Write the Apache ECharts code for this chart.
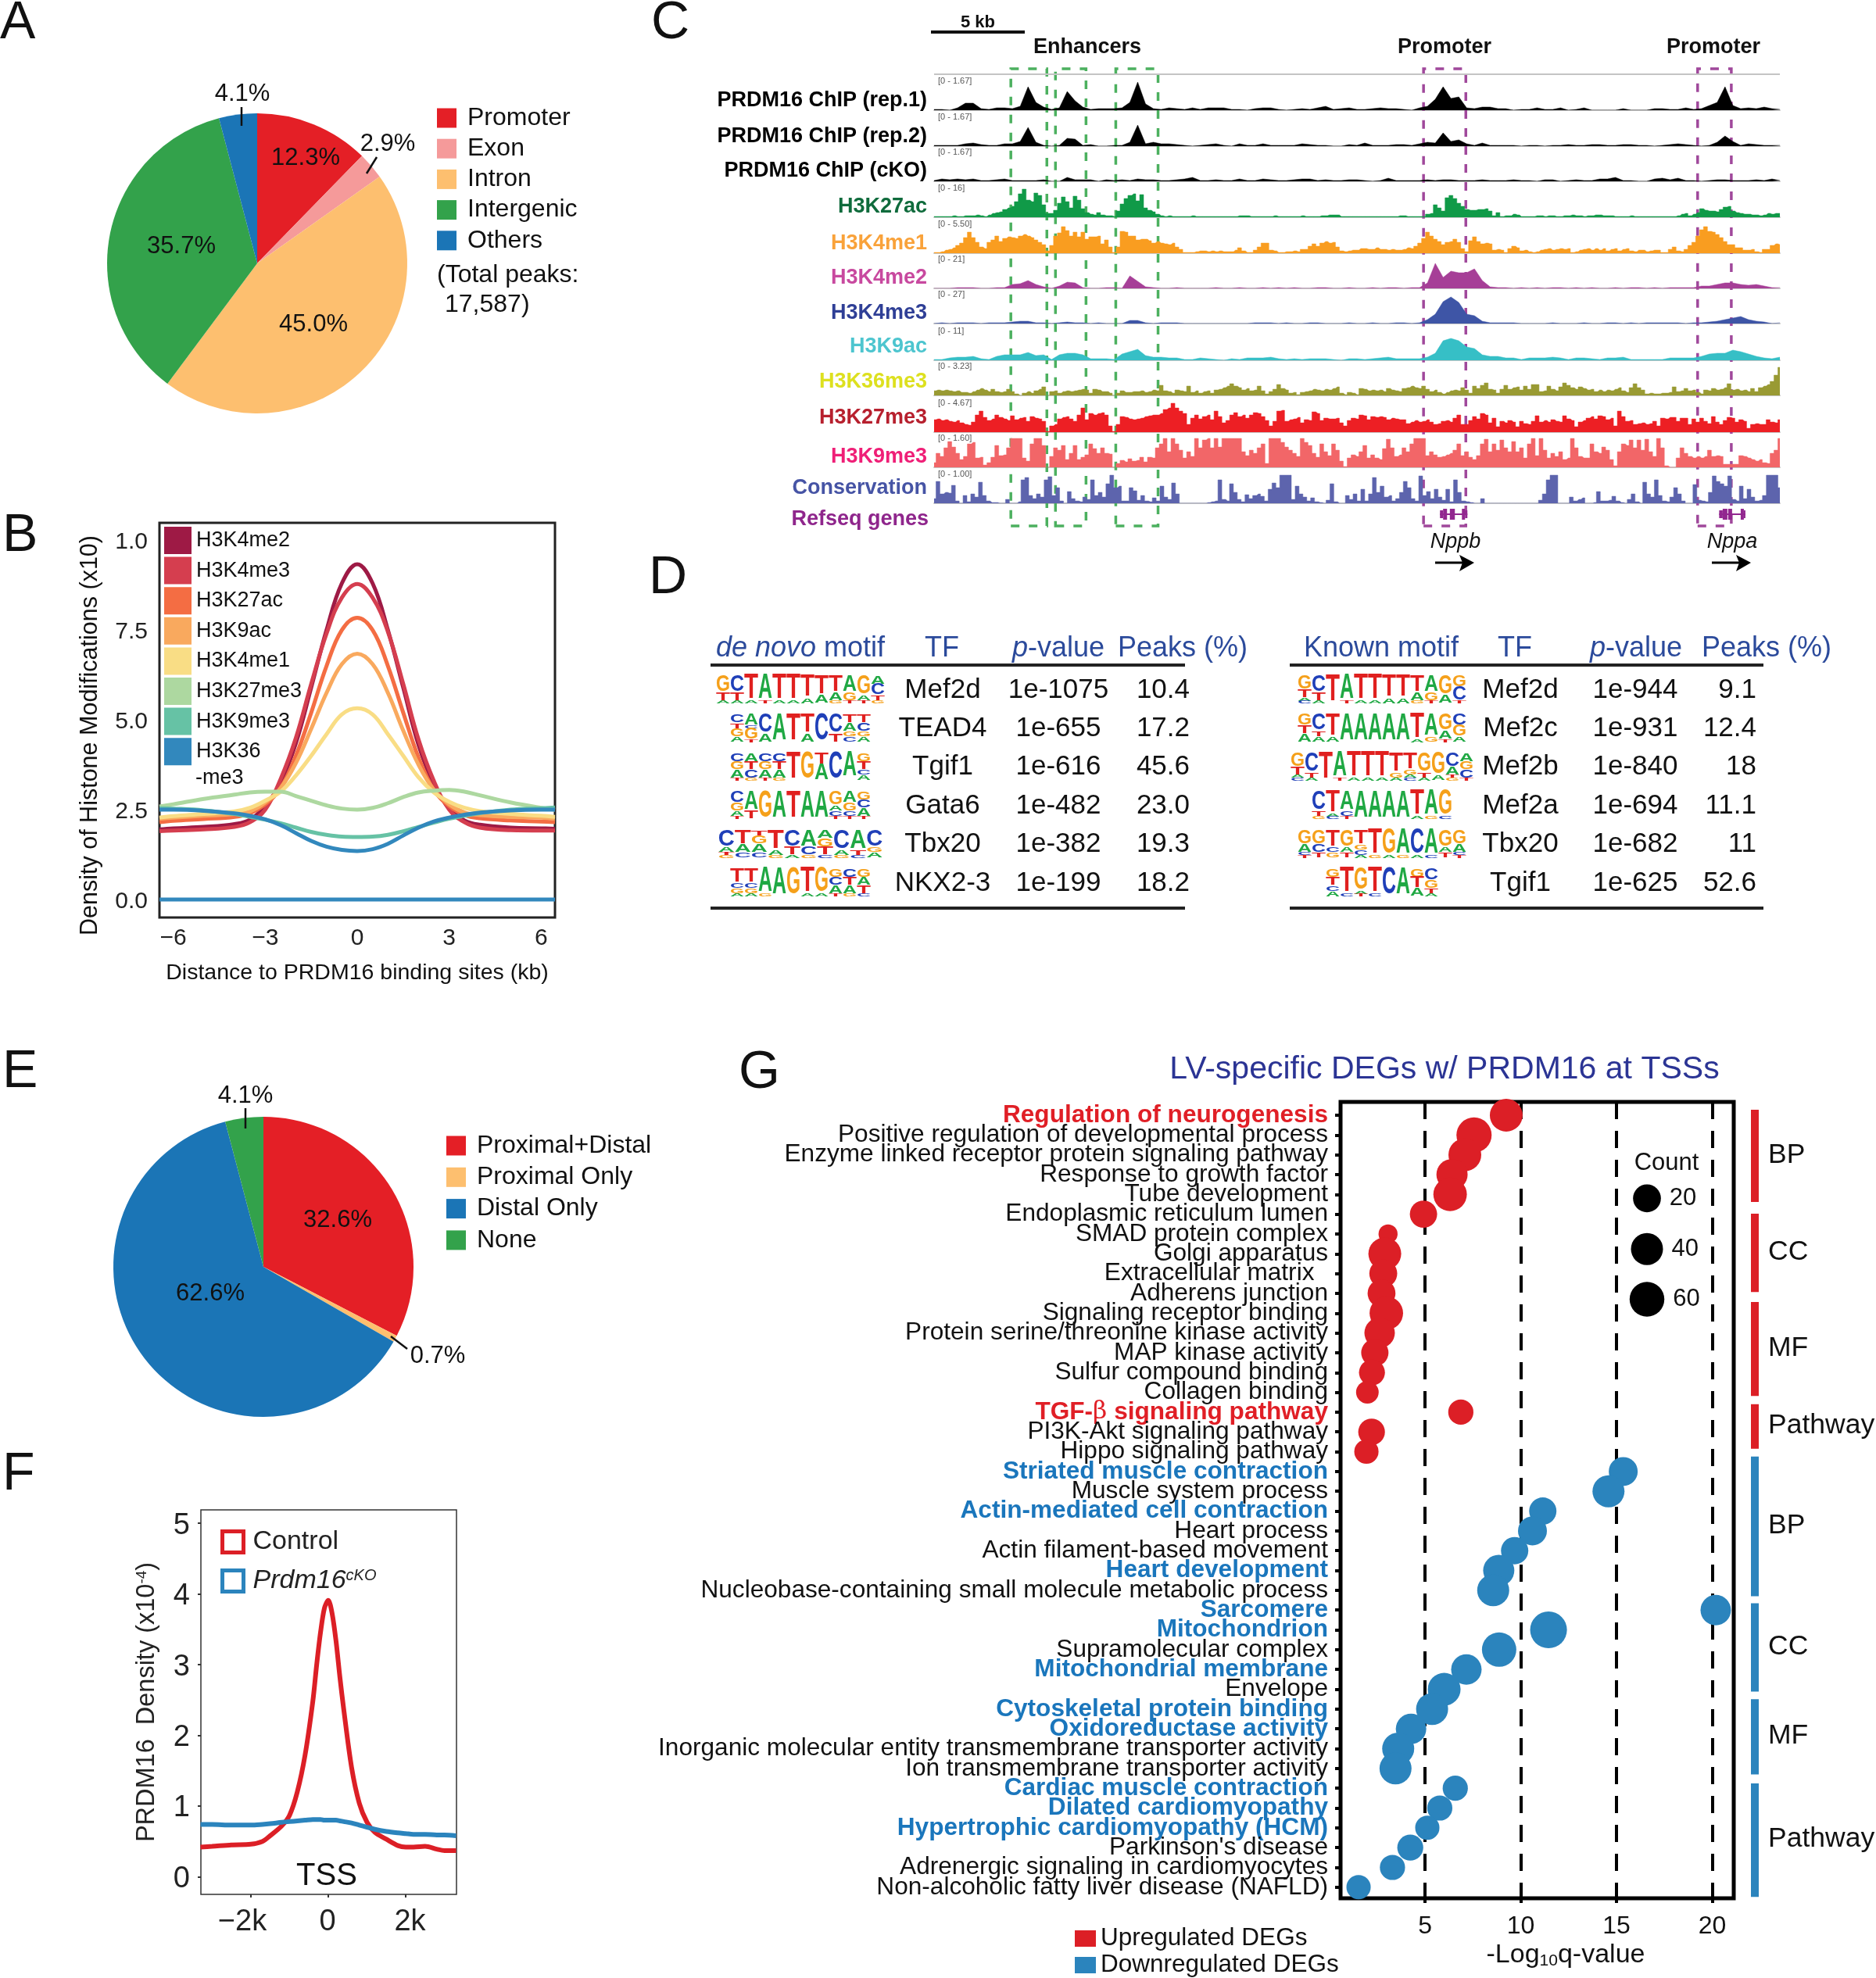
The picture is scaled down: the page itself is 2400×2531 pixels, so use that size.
<!DOCTYPE html>
<html>
<head>
<meta charset="utf-8">
<title>PRDM16 figure</title>
<script src="https://cdn.jsdelivr.net/npm/echarts@6/dist/echarts.min.js"></script>
<style>
  html, body { margin: 0; padding: 0; background: #fff; }
  #main { width: 2400px; height: 2531px; }
</style>
</head>
<body>
<div id="main"></div>
<script>
// panel A + E pies
const aNames = ['Promoter', 'Exon', 'Intron', 'Intergenic', 'Others'];
const aValues = [12.3, 2.9, 45.0, 35.7, 4.1];
const aColors = ['#e41f26', '#f59a9a', '#fdbf6f', '#33a24b', '#1b75b6'];
const eNames = ['Proximal+Distal', 'Proximal Only', 'Distal Only', 'None'];
const eValues = [32.6, 0.7, 62.6, 4.1];
const eColors = ['#e41f26', '#fdbf6f', '#1b75b6', '#33a24b'];

// panel B profiles (x in kb, y in density units)
const bX = [-6.45, -6, -5, -4, -3.5, -3, -2.5, -2, -1.5, -1, -0.5, 0, 0.5, 1, 1.5, 2, 2.5, 3, 3.5, 4, 5, 6, 6.45];
const bH3K4me2 = [1.95, 1.98, 2.02, 2.1, 2.22, 2.6, 3.25, 4.35, 5.9, 7.5, 8.8, 9.33, 8.8, 7.5, 5.9, 4.3, 3.2, 2.55, 2.2, 2.08, 2.0, 1.98, 1.97];
const bH3K4me3 = [1.9, 1.92, 1.95, 2.02, 2.15, 2.5, 3.35, 4.5, 6.0, 7.4, 8.4, 8.78, 8.4, 7.45, 6.0, 4.45, 3.3, 2.5, 2.15, 2.0, 1.93, 1.92, 1.92];
const bH3K27ac = [2.15, 2.19, 2.24, 2.3, 2.4, 2.65, 3.1, 4.0, 5.2, 6.5, 7.5, 7.84, 7.5, 6.5, 5.2, 3.95, 3.05, 2.6, 2.35, 2.26, 2.2, 2.17, 2.15];
const bH3K9ac = [2.25, 2.28, 2.33, 2.38, 2.45, 2.7, 3.1, 3.8, 4.75, 5.75, 6.55, 6.84, 6.55, 5.75, 4.7, 3.75, 3.05, 2.65, 2.42, 2.35, 2.3, 2.28, 2.25];
const bH3K4me1 = [2.28, 2.32, 2.38, 2.45, 2.55, 2.75, 3.0, 3.45, 4.0, 4.6, 5.15, 5.32, 5.15, 4.6, 4.0, 3.4, 2.98, 2.72, 2.55, 2.46, 2.38, 2.33, 2.3];
const bH3K27me3 = [2.59, 2.65, 2.8, 2.92, 2.98, 3.0, 3.0, 2.88, 2.75, 2.62, 2.53, 2.5, 2.55, 2.68, 2.85, 2.98, 3.03, 3.05, 3.0, 2.9, 2.7, 2.55, 2.5];
const bH3K9me3 = [2.54, 2.53, 2.48, 2.38, 2.3, 2.22, 2.12, 2.0, 1.88, 1.8, 1.75, 1.74, 1.75, 1.8, 1.9, 2.02, 2.14, 2.25, 2.33, 2.4, 2.5, 2.54, 2.56];
const bH3K36me3 = [2.5, 2.5, 2.47, 2.4, 2.33, 2.23, 2.07, 1.85, 1.63, 1.47, 1.38, 1.35, 1.4, 1.55, 1.78, 2.0, 2.17, 2.28, 2.36, 2.42, 2.48, 2.5, 2.5];
const bInput = [0, 0, 0, 0, 0, 0, 0, 0, 0, 0, 0, 0, 0, 0, 0, 0, 0, 0, 0, 0, 0, 0, 0];
const bNames = ['H3K4me2', 'H3K4me3', 'H3K27ac', 'H3K9ac', 'H3K4me1', 'H3K27me3', 'H3K9me3', 'H3K36me3'];
const bSeries = [bH3K4me2, bH3K4me3, bH3K27ac, bH3K9ac, bH3K4me1, bH3K27me3, bH3K9me3, bH3K36me3];
const bColors = ['#9e1a45', '#d53e4f', '#f46d43', '#f9a95e', '#f9dd85', '#add8a0', '#66c2a5', '#3288bd'];

// panel C tracks; ChIP/K4me2/K4me3/K9ac per 10 px bin, busy tracks per 5 px bin
const trRep1 = [1,1,0,3,9,9,2,1,3,3,2,5,30,10,4,1,3,24,12,4,1,2,2,2,3,10,36,8,2,1,3,2,1,3,1,3,3,3,1,1,0,2,3,3,1,0,1,2,1,3,5,1,2,3,1,1,2,3,2,2,1,0,3,5,14,30,15,17,3,2,4,4,2,2,0,1,1,3,1,1,3,0,1,3,0,0,0,0,2,0,0,0,2,2,1,1,3,1,2,6,10,30,6,2,3,2,4,2,1];
const trRep2 = [1,1,1,1,3,4,2,1,1,3,3,6,24,5,1,0,1,10,9,1,2,0,0,1,1,5,27,3,5,3,3,2,1,0,1,2,3,1,0,3,1,1,3,1,1,1,1,3,2,1,1,0,0,2,1,4,1,1,1,2,2,1,3,5,4,17,6,8,3,1,4,1,1,1,1,0,1,1,0,1,1,2,1,1,2,2,1,1,2,2,1,1,0,1,2,3,2,1,0,1,5,13,6,1,3,2,1,1,1];
const trCko = [1,3,2,3,2,3,1,1,2,3,1,1,1,1,2,0,0,5,2,2,2,0,2,1,2,1,3,2,2,1,1,2,3,5,1,1,2,1,1,3,1,1,3,2,1,1,2,3,3,1,2,1,1,2,2,1,0,1,4,1,1,1,1,2,1,2,2,1,1,1,2,1,1,1,2,1,1,0,2,2,0,1,2,1,1,3,3,5,1,1,0,0,3,4,2,4,1,1,0,1,2,2,1,1,1,2,1,3,1];
const trK27ac = [1,1,1,1,1,2,1,1,2,2,2,3,2,1,3,5,6,7,10,12,
  14,20,30,36,22,20,31,28,16,5,5,9,18,26,20,12,27,22,11,6,
  4,3,6,3,2,2,1,8,17,24,28,30,21,29,12,9,7,4,2,1,
  2,1,1,1,1,1,2,1,1,1,1,1,1,1,1,1,1,1,2,2,2,1,1,1,1,
  1,1,2,1,1,1,1,1,1,2,1,1,1,1,2,2,3,3,3,1,1,1,1,1,1,1,1,1,1,1,
  1,1,1,1,2,2,1,1,1,1,1,4,5,16,12,8,25,28,24,18,14,10,9,9,10,10,11,8,2,6,1,2,2,4,3,1,
  1,1,1,2,2,1,2,2,1,1,2,2,3,2,2,1,2,2,3,3,2,2,2,1,1,1,1,2,1,1,
  1,1,1,1,1,1,1,1,1,2,4,5,2,4,6,11,9,8,8,7,10,13,14,8,6,5,4,4,3,3,2,3,5,4,5,5];
const trK4me1 = [1,1,2,4,5,7,10,13,20,27,20,14,8,6,14,17,22,15,19,21,
  20,19,22,24,22,20,17,14,11,3,10,22,26,34,29,22,27,21,27,18,
  21,21,22,12,17,8,1,8,28,27,22,22,17,18,18,16,13,15,13,12,
  11,13,8,5,1,1,1,2,3,3,2,3,2,3,2,2,2,4,7,3,1,1,4,8,13,
  13,4,3,1,1,2,2,3,2,5,5,9,12,9,13,15,13,14,8,3,2,3,4,4,6,6,5,5,7,5,
  5,4,5,4,4,5,7,6,9,13,19,27,22,18,15,11,14,15,18,14,6,2,16,21,15,12,13,12,4,5,4,1,6,9,7,3,
  4,2,1,2,4,5,6,4,5,6,5,6,1,2,4,5,6,4,6,4,6,3,5,6,3,5,6,3,2,4,
  4,2,3,4,4,1,1,5,8,3,2,5,10,14,22,30,34,28,27,24,20,15,11,11,7,7,4,4,5,2,1,5,5,10,12,11];
const trK4me2 = [0,0,0,1,1,1,0,0,1,1,5,6,10,5,2,0,3,8,7,1,0,0,1,1,0,16,9,2,1,0,0,1,0,0,0,0,1,0,0,1,0,0,1,0,1,0,1,0,0,1,1,0,0,1,0,0,1,0,1,1,0,1,1,7,32,14,22,20,20,25,10,2,1,1,0,1,0,1,0,1,1,0,1,0,1,0,0,1,0,1,1,0,1,0,1,1,1,1,3,3,5,7,7,5,4,5,3,1,1];
const trK4me3 = [0,1,0,1,1,1,0,1,1,1,2,3,3,1,1,0,1,2,1,1,0,1,0,0,0,4,4,1,0,1,1,1,0,0,0,0,0,0,0,0,0,1,1,1,0,1,0,0,1,1,0,0,0,1,0,0,1,0,0,1,1,0,1,5,12,28,34,27,12,10,3,1,1,1,1,0,0,0,0,1,0,0,0,1,0,0,1,1,0,1,0,1,1,1,1,1,0,1,1,2,3,5,7,9,5,3,2,0,1];
const trK9ac = [1,1,3,4,4,5,2,1,5,7,7,7,10,6,7,1,7,9,9,7,2,2,2,1,8,11,14,6,4,4,3,3,1,1,3,2,1,0,2,1,3,3,3,4,2,1,2,1,2,2,2,1,0,2,2,1,2,3,4,2,2,2,2,4,9,25,28,25,17,15,7,5,5,3,3,1,3,3,3,4,3,1,3,3,2,1,3,3,4,1,1,1,1,1,3,3,3,3,5,8,9,9,13,11,8,5,3,2,4];
const trK36me3 = [6,7,6,7,6,5,6,4,4,3,5,7,9,7,5,8,5,4,5,8,5,2,0,3,5,3,6,8,11,0,
  5,6,3,5,6,5,6,7,8,7,3,8,7,5,5,3,0,3,6,4,4,5,5,6,4,5,7,6,13,
  6,5,3,7,6,5,12,4,6,3,5,6,3,7,8,10,12,15,12,10,7,9,6,7,12,6,
  2,5,8,14,9,7,3,4,1,4,5,6,8,7,6,8,7,9,11,3,1,4,3,1,9,8,6,7,6,7,
  5,9,7,6,5,9,10,12,10,9,12,8,5,7,4,2,4,6,7,6,10,7,3,12,9,13,16,8,7,3,
  8,13,8,10,11,7,12,8,14,14,5,6,12,8,6,11,16,13,10,8,11,9,7,8,5,7,5,7,6,8,
  10,6,4,10,15,10,7,2,3,2,2,3,3,4,11,5,6,9,6,7,4,2,7,6,9,7,8,10,15,7,
  8,6,7,5,9,5,10,12,14,18,26,36];
const trK27me3 = [16,17,15,16,14,13,15,12,10,9,13,22,27,19,15,17,22,19,17,15,21,16,18,19,14,20,18,17,14,1,8,10,
  17,19,20,17,14,22,31,16,24,22,24,25,22,8,1,10,20,19,17,16,17,18,20,21,22,22,24,
  29,31,37,31,27,24,10,18,22,17,20,22,16,27,20,12,15,22,25,20,22,18,22,25,24,20,
  15,8,14,27,28,14,16,17,19,12,16,15,26,24,15,18,17,17,18,12,8,15,18,17,22,21,16,20,19,20,
  19,16,18,17,16,16,11,13,15,13,14,16,13,10,11,14,15,13,18,22,10,10,15,20,17,24,22,12,18,7,
  14,12,15,13,7,14,11,10,14,21,13,15,13,16,14,13,21,17,15,7,13,15,18,20,17,21,20,16,18,8,
  27,20,14,15,10,11,12,10,11,14,8,18,17,19,19,14,18,18,10,17,13,18,14,11,20,13,10,15,19,18,
  13,16,14,5,10,11,10,10,16,13,12,16];
const trK9me3 = [6,18,14,25,33,26,18,10,14,30,32,12,13,3,6,13,28,15,16,25,37,37,37,12,8,30,37,37,28,0,
  14,25,22,28,10,18,28,10,13,16,30,24,18,25,18,17,0,5,9,7,11,8,9,13,7,13,12,25,30,37,
  20,37,30,22,12,20,14,37,25,35,37,25,37,26,37,37,37,37,37,20,15,22,18,25,30,
  5,37,37,37,32,26,22,18,14,37,32,28,18,13,30,20,15,30,22,8,1,12,16,14,20,28,12,16,12,10,
  24,36,25,14,16,25,20,30,37,37,37,15,20,16,13,14,16,18,22,30,15,20,13,10,15,30,36,20,30,22,
  35,25,20,33,20,25,12,30,37,15,37,22,12,18,14,20,10,12,37,25,14,12,12,30,20,18,26,22,10,2,
  20,30,28,35,25,35,22,36,20,14,37,25,2,0,0,12,25,18,14,12,14,12,14,22,14,15,14,4,4,4,
  4,15,14,12,10,8,10,6,5,18,22,37];
const trCons = [6,28,12,14,13,23,3,0,10,2,12,8,27,10,3,1,1,0,0,5,0,0,2,30,33,10,6,12,8,30,34,10,20,3,0,15,6,3,2,8,
  5,30,10,14,8,25,36,20,22,3,3,20,16,4,10,3,2,7,3,22,8,5,26,12,0,0,0,0,0,0,0,1,2,3,30,5,3,25,14,5,2,11,6,10,12,
  9,3,18,26,20,36,36,36,5,22,12,8,3,7,2,1,0,4,25,2,0,0,10,5,12,3,18,3,12,33,14,22,8,10,3,6,14,28,20,6,3,35,10,15,6,18,8,4,18,2,
  30,14,3,2,1,0,0,6,0,0,0,0,0,0,0,0,0,0,0,0,0,0,4,12,30,36,36,0,0,0,8,3,5,7,0,0,1,15,3,3,4,9,3,1,0,5,12,2,0,27,
  12,8,30,10,3,2,8,20,12,3,0,0,24,4,3,2,14,35,28,25,22,35,5,3,22,6,18,8,3,4,10,36,36,36,20];
const trackNames = ['PRDM16 ChIP (rep.1)', 'PRDM16 ChIP (rep.2)', 'PRDM16 ChIP (cKO)', 'H3K27ac', 'H3K4me1', 'H3K4me2', 'H3K4me3', 'H3K9ac', 'H3K36me3', 'H3K27me3', 'H3K9me3', 'Conservation'];
const trackData = [trRep1, trRep2, trCko, trK27ac, trK4me1, trK4me2, trK4me3, trK9ac, trK36me3, trK27me3, trK9me3, trCons];
const trackRange = ['[0 - 1.67]', '[0 - 1.67]', '[0 - 1.67]', '[0 - 16]', '[0 - 5.50]', '[0 - 21]', '[0 - 27]', '[0 - 11]', '[0 - 3.23]', '[0 - 4.67]', '[0 - 1.60]', '[0 - 1.00]'];
const trackFill = ['#000', '#000', '#000', '#109a48', '#f99d20', '#a63f97', '#3e55a6', '#36bfc6', '#999a33', '#ed1f24', '#f26668', '#5d64ad'];
const trackLabel = ['#000', '#000', '#000', '#0f6b3c', '#f9a23a', '#c8499f', '#2f3f96', '#4dc5cf', '#dde01f', '#b7202e', '#ef1f77', '#4654a5'];
const trackBase = [141, 187, 232, 278, 324, 369, 414, 461, 506, 553, 598, 644];
const trackLabelY = [127, 173, 217, 263, 310, 354, 399, 442, 487, 533, 583, 623];
// dashed boxes and gene models, in bins
const enhancerBoxes = [[9.8, 14.4], [15.5, 19.4], [23.2, 28.6]];
const promoterBoxes = [[62.5, 67.9], [97.5, 101.8]];
const geneExons = [[64.6, 68.1, 1], [64.6, 65, 5], [65, 65.5, 7], [65.86, 66.5, 7], [67.4, 67.8, 7], [67.8, 68.1, 5],
  [100.25, 103.6, 1], [100.25, 100.7, 5], [100.7, 101.3, 7], [101.4, 101.9, 7], [103, 103.4, 7], [103.4, 103.6, 5]];

// panel D tables
const dLeftTF = ['Mef2d', 'TEAD4', 'Tgif1', 'Gata6', 'Tbx20', 'NKX2-3'];
const dLeftP = ['1e-1075', '1e-655', '1e-616', '1e-482', '1e-382', '1e-199'];
const dLeftPeaks = ['10.4', '17.2', '45.6', '23.0', '19.3', '18.2'];
const dRightTF = ['Mef2d', 'Mef2c', 'Mef2b', 'Mef2a', 'Tbx20', 'Tgif1'];
const dRightP = ['1e-944', '1e-931', '1e-840', '1e-694', '1e-682', '1e-625'];
const dRightPeaks = ['9.1', '12.4', '18', '11.1', '11', '52.6'];
// logo columns: letters top to bottom, digit = tenths of the column height
const logoLeft = [
  ['G6T3A1', 'C6T3A1', 'T9A1', 'A9T1', 'T9A1', 'T9A1', 'T8A2', 'T7A3', 'T6A3G1', 'A6G3T1', 'G7A2T1', 'A3C4T2G1'],
  ['C3T2G3A2', 'A4C1G4T1', 'C7A3', 'A10', 'T10', 'T7A3', 'C10', 'C7T3', 'T3A3G2C2', 'T3C3G2A2'],
  ['C3G3A3T1', 'A3T3C3G1', 'C3G3A3T1', 'C3T3A3G1', 'T10', 'G10', 'T4A6', 'C10', 'A9', 'G3T3C2A2'],
  ['C4G3A2T1', 'A7T3', 'G10', 'A10', 'T10', 'A10', 'A10', 'G5A2C2T1', 'A4G3C2T1', 'G3C3A3T1'],
  ['C6A2T1G1', 'T5A3C2', 'T2G3A3C2', 'T7A2G1', 'C6T3A1', 'A6C3G1', 'A3G3T3C1', 'C7A2G1', 'A7T2C1', 'C6G2A2'],
  ['T5C2G2A1', 'T5C2G2A1', 'A9G1', 'A10', 'G10', 'T9A1', 'G9A1', 'G3C3A3T1', 'C3T3A3G1', 'G3A3T3C1']
];
const logoRight = [
  ['G5T3A1C1', 'C6T3A1', 'T10', 'A9T1', 'T9A1', 'T9A1', 'T8A2', 'T8A2', 'T6A3G1', 'A6G3T1', 'G7A3', 'G4C5T1'],
  ['G4T3A3', 'C6T2A2', 'T8A2', 'A10', 'A10', 'A10', 'A10', 'A10', 'T9A1', 'A8G2', 'G6A3T1', 'C4G4A2'],
  ['G5T3A1C1', 'C7T2A1', 'T10', 'A9T1', 'T9A1', 'T9A1', 'T9A1', 'T7G2A1', 'T6G2A1C1', 'G7T2A1', 'G8A2', 'C5A3T1G1', 'A3G3C3T1'],
  ['C7T2G1', 'T8A1C1', 'A7C2T1', 'A10', 'A10', 'A10', 'A10', 'T9A1', 'A9G1', 'G9C1'],
  ['G5A3C1T1', 'G5C3T2', 'T6C2G2', 'G6A2T2', 'T5G2C2A1', 'T9G1', 'G9A1', 'A9G1', 'C9A1', 'A9C1', 'G6A2T2', 'G5A3C1T1'],
  ['G3T3C2A2', 'T9C1', 'G8A1T1', 'T9C1', 'C10', 'A10', 'G3T4A3', 'C4G3T2A1']
];
const logoLeftWide = [1, 1, 1, 1, 1.17, 1];
const logoRightWide = [1, 1, 1, 1, 1, 1];
const logoLetters = 'ACGT';
const logoColors = ['#1fa843', '#1f3fb8', '#f5a01a', '#e0201f'];

// panel F
const fX = [-3300, -3000, -2500, -2000, -1700, -1500, -1200, -1000, -800, -600, -400, -300, -200, -100, 0, 100, 200, 300, 400, 600, 800, 1000, 1200, 1500, 1800, 2000, 2200, 2500, 2800, 3000, 3300];
const fControl = [0.42, 0.43, 0.45, 0.46, 0.5, 0.58, 0.72, 0.87, 1.2, 1.72, 2.48, 3.0, 3.46, 3.8, 3.91, 3.72, 3.33, 2.82, 2.36, 1.55, 1.04, 0.77, 0.63, 0.53, 0.44, 0.42, 0.42, 0.43, 0.39, 0.37, 0.37];
const fCko = [0.74, 0.74, 0.73, 0.73, 0.74, 0.75, 0.77, 0.78, 0.79, 0.8, 0.81, 0.81, 0.81, 0.8, 0.8, 0.8, 0.8, 0.79, 0.78, 0.76, 0.73, 0.7, 0.67, 0.64, 0.62, 0.61, 0.6, 0.6, 0.59, 0.59, 0.58];

// panel G
const gLabels = ['Regulation of neurogenesis', 'Positive regulation of developmental process', 'Enzyme linked receptor protein signaling pathway', 'Response to growth factor', 'Tube development', 'Endoplasmic reticulum lumen', 'SMAD protein complex', 'Golgi apparatus', 'Extracellular matrix  ', 'Adherens junction', 'Signaling receptor binding', 'Protein serine/threonine kinase activity', 'MAP kinase activity', 'Sulfur compound binding', 'Collagen binding', 'TGF-β signaling pathway', 'PI3K-Akt signaling pathway', 'Hippo signaling pathway',
  'Striated muscle contraction', 'Muscle system process', 'Actin-mediated cell contraction', 'Heart process', 'Actin filament-based movement', 'Heart development', 'Nucleobase-containing small molecule metabolic process', 'Sarcomere', 'Mitochondrion', 'Supramolecular complex', 'Mitochondrial membrane', 'Envelope', 'Cytoskeletal protein binding', 'Oxidoreductase activity', 'Inorganic molecular entity transmembrane transporter activity', 'Ion transmembrane transporter activity', 'Cardiac muscle contraction', 'Dilated cardiomyopathy', 'Hypertrophic cardiomyopathy (HCM)', "Parkinson's disease", 'Adrenergic signaling in cardiomyocytes', 'Non-alcoholic fatty liver disease (NAFLD)'];
const gQ = [9.24, 7.56, 7.08, 6.41, 6.31, 4.92, 3.07, 2.9, 2.82, 2.73, 2.98, 2.63, 2.38, 2.23, 1.99, 6.87, 2.21, 1.94,
  15.35, 14.58, 11.15, 10.61, 9.68, 8.85, 8.56, 20.18, 11.45, 8.87, 7.16, 6.0, 5.37, 4.27, 3.6, 3.46, 6.58, 5.77, 5.12, 4.23, 3.3, 1.53];
const gCount = [45, 64, 45, 35, 50, 18, 3, 45, 20, 20, 50, 31, 18, 14, 7, 12, 16, 10,
  24, 40, 18, 24, 18, 35, 40, 31, 80, 57, 31, 45, 40, 31, 40, 40, 12, 12, 10, 14, 12, 10];
const gBoldRows = [0, 15, 18, 20, 23, 25, 26, 28, 30, 31, 34, 35, 36];
const gUpRows = 18;
const gGroups = [['BP', -0.28, 4.38], ['CC', 4.98, 8.93], ['MF', 9.44, 14.18], ['Pathway', 14.6, 16.85],
  ['BP', 17.24, 24.3], ['CC', 24.66, 29.12], ['MF', 29.5, 33.3], ['Pathway', 33.76, 39.49]];
const gSizeKey = [20, 40, 60];
const gSizeKeyQ = [16.59, 16.59, 16.59];
const gSizeKeyRow = [4.2, 6.76, 9.3];

const FONT = '"Liberation Sans", Arial, sans-serif';
const RED = '#dc1f26', BLUE = '#2b84bd';

const myChart = echarts.init(document.getElementById('main'));
const grids = [], xAxes = [], yAxes = [], series = [], graphics = [], legends = [];

function txt(x, y, text, size, extra) {
  const o = extra || {};
  graphics.push({
    type: 'text', x: x, y: y + 3, rotation: o.rotation || 0, silent: true, z: 50,
    style: Object.assign({
      text: text, fontSize: size, fontFamily: FONT, fill: o.fill || '#111',
      fontWeight: o.weight || 'normal', fontStyle: o.fontStyle || 'normal',
      align: o.align || 'left', verticalAlign: 'middle'
    }, o.rich ? { rich: o.rich } : {})
  });
}
function seg(x1, y1, x2, y2, width, color) {
  graphics.push({
    type: 'line', silent: true, z: 50, shape: { x1: x1, y1: y1, x2: x2, y2: y2 },
    style: { stroke: color || '#111', lineWidth: width }
  });
}
function addGrid(left, top, width, height, extra) {
  grids.push(Object.assign({ left: left, top: top, width: width, height: height, outerBoundsMode: 'none' }, extra || {}));
  return grids.length - 1;
}
function hiddenAxis(idx, min, max, extra) {
  return Object.assign({ type: 'value', gridIndex: idx, min: min, max: max, show: false }, extra || {});
}
function pieLegend(names, left, top, gap, size) {
  legends.push({
    data: names, orient: 'vertical', left: left, top: top, padding: 0, icon: 'rect', itemWidth: 25, itemHeight: 25,
    itemGap: gap, selectedMode: false,
    textStyle: { fontSize: size, fontFamily: FONT, color: '#111', padding: [0, 0, 0, 9] }
  });
}

// panel letters
[['A', 0, 27], ['B', 3, 683], ['C', 833, 27], ['D', 830, 737], ['E', 3, 1369], ['F', 3, 1884], ['G', 945, 1370]].forEach(p => {
  txt(p[1], p[2], p[0], 68);
});

// A
const aLabelXY = [[391, 202], [496, 184], [401, 415], [232, 315], [310, 120]];
series.push({
  type: 'pie', center: [329, 337], radius: 192, startAngle: 90, silent: true,
  data: aNames.map((n, i) => ({ name: n, value: aValues[i], itemStyle: { color: aColors[i] } })),
  label: { formatter: p => p.value.toFixed(1) + '%', fontSize: 31, fontFamily: FONT, color: '#111', overflow: 'none' },
  labelLine: { show: false },
  labelLayout: p => ({ x: aLabelXY[p.dataIndex][0], y: aLabelXY[p.dataIndex][1], align: 'center', verticalAlign: 'middle' })
});
pieLegend(aNames, 559, 135, 7.2, 32);
seg(309, 137, 309, 161, 2.5);
seg(482, 201, 469, 222, 2.5);
txt(559, 349, '(Total peaks:', 32);
txt(569, 387, '17,587)', 32);

// E
const eLabelXY = [[432, 1561], [560, 1735], [269, 1655], [314, 1402]];
series.push({
  type: 'pie', center: [337, 1621], radius: 192, startAngle: 90, silent: true,
  data: eNames.map((n, i) => ({ name: n, value: eValues[i], itemStyle: { color: eColors[i] } })),
  label: { formatter: p => p.value.toFixed(1) + '%', fontSize: 31, fontFamily: FONT, color: '#111', overflow: 'none' },
  labelLine: { show: false },
  labelLayout: p => ({ x: eLabelXY[p.dataIndex][0], y: eLabelXY[p.dataIndex][1], align: 'center', verticalAlign: 'middle' })
});
pieLegend(eNames, 571, 1450, 8.3, 32);
seg(314, 1418, 314, 1444, 2.5);
seg(500, 1710, 521, 1726, 2.5);

// B
const gB = addGrid(204, 669, 506, 505, { show: true, borderColor: '#222', borderWidth: 3 });
xAxes.push({
  type: 'value', gridIndex: gB, min: -6.45, max: 6.45, splitLine: { show: false },
  axisLine: { show: false, onZero: false }, axisTick: { show: false },
  axisLabel: { customValues: [-6, -3, 0, 3, 6], formatter: v => String(v).replace('-', '\u2212'), fontSize: 30, color: '#222', fontFamily: FONT, margin: 12 },
  name: 'Distance to PRDM16 binding sites (kb)', nameLocation: 'middle', nameGap: 57,
  nameTextStyle: { fontSize: 28.5, color: '#111', fontFamily: FONT }
});
yAxes.push({
  type: 'value', gridIndex: gB, min: -0.5, max: 10.48, splitLine: { show: false },
  axisLine: { show: false, onZero: false }, axisTick: { show: false },
  axisLabel: {
    customValues: [0, 2.5, 5, 7.5, 10], formatter: v => '{a|' + (v === 10 ? '1.0' : v.toFixed(1)) + '}', margin: 15,
    rich: { a: { fontSize: 30, color: '#222', fontFamily: FONT, padding: [6, 0, 0, 0] } }
  }
});
bNames.forEach((n, i) => {
  series.push({
    type: 'line', name: n, xAxisIndex: gB, yAxisIndex: gB, smooth: 0.4, symbol: 'none', color: bColors[i],
    lineStyle: { width: 5, color: bColors[i] }, data: bX.map((x, k) => [x, bSeries[i][k]])
  });
});
series.push({
  type: 'line', name: 'Input', xAxisIndex: gB, yAxisIndex: gB, symbol: 'none',
  lineStyle: { width: 5, color: bColors[7] }, data: bX.map((x, k) => [x, bInput[k]])
});
legends.push({
  data: bNames, orient: 'vertical', left: 210, top: 674, padding: 0, icon: 'rect', itemWidth: 35, itemHeight: 35, itemGap: 3.6,
  selectedMode: false,
  formatter: n => n === 'H3K36me3' ? 'H3K36' : n,
  textStyle: { fontSize: 27, fontFamily: FONT, color: '#111', padding: [0, 0, 0, 1] }
});
txt(250, 993, '-me3', 27);
txt(116, 938, 'Density of Histone Modifications (x10)', 30.5, { align: 'center', rotation: Math.PI / 2 });

// C tracks
trackNames.forEach((n, i) => {
  const h = 40;
  const g = addGrid(1195, trackBase[i] - h, 1082, h);
  const vals = trackData[i];
  xAxes.push({
    type: 'value', gridIndex: g, min: 0, max: 108, splitLine: { show: false },
    axisLabel: { show: false }, axisTick: { show: false },
    axisLine: { show: true, lineStyle: { color: '#c8c8c8', width: 2 } }
  });
  yAxes.push(hiddenAxis(g, 0, h));
  series.push({
    type: 'line', xAxisIndex: g, yAxisIndex: g, symbol: 'none', step: vals.length > 150 ? 'middle' : false, silent: true,
    lineStyle: { width: 0.5, color: trackFill[i] }, areaStyle: { color: trackFill[i], opacity: 1 },
    data: vals.map((v, k) => [k * 108 / (vals.length - 1), v])
  });
  txt(1186, trackLabelY[i] - 1, n, 27, { align: 'right', weight: 'bold', fill: trackLabel[i] });
  txt(1200, trackBase[i] - 40, trackRange[i], 11, { fill: '#555' });
});
txt(1188, 662, 'Refseq genes', 27, { align: 'right', weight: 'bold', fill: '#8f268c' });
seg(1195, 95, 2277, 95, 2, '#c4c4c4');
seg(1191, 41, 1311, 41, 4, '#111');
txt(1251, 26, '5 kb', 22, { align: 'center', weight: 'bold' });
txt(1391, 58, 'Enhancers', 27, { align: 'center', weight: 'bold' });
txt(1848, 58, 'Promoter', 27, { align: 'center', weight: 'bold' });
txt(2192, 58, 'Promoter', 27, { align: 'center', weight: 'bold' });

// dashed boxes on top of the tracks
const gBox = addGrid(1195, 88, 1082, 585);
xAxes.push(hiddenAxis(gBox, 0, 108));
yAxes.push(hiddenAxis(gBox, 0, 1));
[[enhancerBoxes, '#4cb05f'], [promoterBoxes, '#a0489b']].forEach(b => {
  series.push({
    type: 'line', xAxisIndex: gBox, yAxisIndex: gBox, data: [], z: 10, silent: true,
    markArea: {
      silent: true,
      itemStyle: { color: 'rgba(0,0,0,0)', borderColor: b[1], borderWidth: 3.5, borderType: [11, 12] },
      data: b[0].map(r => [{ xAxis: r[0], yAxis: 0 }, { xAxis: r[1], yAxis: 1 }])
    }
  });
});

// gene models
const gGene = addGrid(1195, 640, 1082, 36);
xAxes.push(hiddenAxis(gGene, 0, 108));
yAxes.push(hiddenAxis(gGene, 0, 36));
series.push({
  type: 'custom', xAxisIndex: gGene, yAxisIndex: gGene, silent: true, data: geneExons,
  renderItem: (params, api) => {
    const a = api.coord([api.value(0), 18 + api.value(2)]);
    const b = api.coord([api.value(1), 18 - api.value(2)]);
    return { type: 'rect', shape: { x: a[0], y: a[1], width: b[0] - a[0], height: b[1] - a[1] }, style: { fill: '#92278f' } };
  }
});
txt(1862, 690, 'Nppb', 27, { align: 'center', fontStyle: 'italic' });
txt(2216, 690, 'Nppa', 27, { align: 'center', fontStyle: 'italic' });
[1836, 2190].forEach(x0 => {
  seg(x0, 720, x0 + 38, 720, 3, '#000');
  graphics.push({
    type: 'polygon', silent: true, z: 50,
    shape: { points: [[x0 + 50, 720], [x0 + 31, 710], [x0 + 35, 720], [x0 + 31, 731]] },
    style: { fill: '#000' }
  });
});

// D tables
const HEAD = '#2b4a9b';
function table(o) {
  seg(o.x1, 851, o.x2, 851, 4, '#222');
  seg(o.x1, 1162, o.x2, 1162, 4, '#222');
  txt(o.headX, 827, o.head, 36, { align: 'center', fill: HEAD, rich: { i: { fontStyle: 'italic', fontSize: 36, fontFamily: FONT, fill: HEAD } } });
  txt(o.tfHeadX, 827, 'TF', 36, { align: 'center', fill: HEAD });
  txt(o.pHeadX, 827, '{i|p}-value', 36, { align: 'center', fill: HEAD, rich: { i: { fontStyle: 'italic', fontSize: 36, fontFamily: FONT, fill: HEAD } } });
  txt(o.peakHeadX, 827, 'Peaks (%)', 36, { align: 'center', fill: HEAD });
  o.tf.forEach((t, r) => {
    const y = 880 + 49.4 * r;
    txt(o.tfX, y, t, 35, { align: 'center', fill: '#111' });
    txt(o.pX, y, o.p[r], 35, { align: 'center', fill: '#111' });
    txt(o.peakX, y, o.peaks[r], 35, { align: 'right', fill: '#111' });
  });
  // logo letters go through a hidden grid: x in columns, y in table rows
  const g = addGrid(o.logoX - 126, 858.3, 252, 296.4);
  xAxes.push(hiddenAxis(g, -7, 7));
  yAxes.push(hiddenAxis(g, 0, 6, { inverse: true }));
  const items = [];
  o.logo.forEach((cols, r) => {
    const w = o.wide[r];
    cols.forEach((col, c) => {
      const xc = (c - (cols.length - 1) / 2) * w;
      let top = r + 0.5 - 0.355;
      (col.match(/[ACGT]\d+/g) || []).forEach(tok => {
        const h = parseInt(tok.slice(1), 10) / 10 * 0.71;
        items.push([xc, top + h / 2, h, logoLetters.indexOf(tok[0]), w]);
        top += h;
      });
    });
  });
  series.push({
    type: 'custom', xAxisIndex: g, yAxisIndex: g, silent: true, data: items,
    renderItem: (params, api) => {
      const p = api.coord([api.value(0), api.value(1)]);
      const s = api.size([api.value(4), api.value(2)]);
      const k = api.value(3);
      const base = k === 3 ? 24.4 : (k === 2 ? 31.1 : 28.9);
      return {
        type: 'text', x: p[0], y: p[1], scaleX: s[0] / base, scaleY: s[1] / 29,
        style: { text: logoLetters[k], x: 0, y: 0, align: 'center', verticalAlign: 'middle', fontSize: 40, fontWeight: 'bold', fontFamily: FONT, fill: logoColors[k] }
      };
    }
  });
}
table({
  x1: 909, x2: 1516, head: '{i|de novo} motif', headX: 1024, tfHeadX: 1205, pHeadX: 1354, peakHeadX: 1513,
  tf: dLeftTF, p: dLeftP, peaks: dLeftPeaks, tfX: 1206, pX: 1354, peakX: 1522, logo: logoLeft, wide: logoLeftWide, logoX: 1024
});
table({
  x1: 1650, x2: 2256, head: 'Known motif', headX: 1767, tfHeadX: 1938, pHeadX: 2093, peakHeadX: 2260,
  tf: dRightTF, p: dRightP, peaks: dRightPeaks, tfX: 1945, pX: 2092, peakX: 2247, logo: logoRight, wide: logoRightWide, logoX: 1768
});

// F
const gF = addGrid(257, 1932, 327, 492, { show: true, borderColor: '#333', borderWidth: 1.5 });
xAxes.push({
  type: 'value', gridIndex: gF, min: -3290, max: 3310, splitLine: { show: false },
  axisLine: { show: false, onZero: false },
  axisTick: { customValues: [-2000, 0, 2000], length: 4, lineStyle: { color: '#333', width: 2 } },
  // the printed -2k / 2k labels sit slightly off their ticks in the source figure
  axisLabel: { customValues: [-2220, -20, 2110], formatter: v => v > 1000 ? '2k' : (v < -1000 ? '\u22122k' : '0'), fontSize: 38, color: '#222', fontFamily: FONT, margin: 17 }
});
yAxes.push({
  type: 'value', gridIndex: gF, min: -0.25, max: 5.19, splitLine: { show: false },
  axisLine: { show: false, onZero: false },
  axisTick: { customValues: [0, 1, 2, 3, 4, 5], length: 4, lineStyle: { color: '#333', width: 2 } },
  axisLabel: {
    customValues: [0, 1, 2, 3, 4, 5], formatter: v => '{a|' + v + '}', margin: 14,
    rich: { a: { fontSize: 38, color: '#222', fontFamily: FONT, padding: [6, 0, 0, 0] } }
  },
  name: 'PRDM16  Density (x10{s|-4})', nameLocation: 'middle', nameGap: 52,
  nameTextStyle: { fontSize: 32.5, color: '#222', fontFamily: FONT, rich: { s: { fontSize: 19, verticalAlign: 'top', color: '#222', fontFamily: FONT } } }
});
series.push({
  type: 'line', name: 'Control', xAxisIndex: gF, yAxisIndex: gF, smooth: 0.3, symbol: 'none', color: RED,
  lineStyle: { width: 6, color: RED }, data: fX.map((x, k) => [x, fControl[k]])
});
series.push({
  type: 'line', name: 'Prdm16cKO', xAxisIndex: gF, yAxisIndex: gF, smooth: 0.3, symbol: 'none', color: BLUE,
  lineStyle: { width: 6, color: BLUE }, data: fX.map((x, k) => [x, fCko[k]])
});
legends.push({
  orient: 'vertical', left: 282, top: 1956, padding: 0, itemWidth: 27, itemHeight: 27, itemGap: 16, selectedMode: false,
  data: [
    { name: 'Control', icon: 'rect', itemStyle: { color: '#fff', borderColor: RED, borderWidth: 5 } },
    { name: 'Prdm16cKO', icon: 'rect', itemStyle: { color: '#fff', borderColor: BLUE, borderWidth: 5 } }
  ],
  formatter: n => n === 'Control' ? 'Control' : '{i|Prdm16}{s|cKO}',
  textStyle: {
    fontSize: 34, fontFamily: FONT, color: '#222', padding: [0, 0, 0, 7],
    rich: {
      i: { fontSize: 34, fontStyle: 'italic', fontFamily: FONT, color: '#222' },
      s: { fontSize: 20, fontStyle: 'italic', verticalAlign: 'top', fontFamily: FONT, color: '#222' }
    }
  }
});
txt(418, 2398, 'TSS', 40, { align: 'center' });

// G
txt(1848, 1366, 'LV-specific DEGs w/ PRDM16 at TSSs', 41, { align: 'center', fill: '#2b3494' });
const gRows = gLabels.map((_, i) => i);
const labelRich = {
  k: { fontSize: 31.6, fontFamily: FONT, color: '#111' },
  r: { fontSize: 31.6, fontFamily: FONT, color: '#e01f26', fontWeight: 'bold' },
  rs: { fontSize: 31.6, fontFamily: 'DejaVu Serif', color: '#e01f26' },
  b: { fontSize: 31.6, fontFamily: FONT, color: '#1a76bc', fontWeight: 'bold' }
};
const gG = addGrid(1715, 1410, 503, 1019, { show: true, borderColor: '#000', borderWidth: 5 });
xAxes.push({
  type: 'value', gridIndex: gG, min: 0.59, max: 21.12, axisLine: { show: false, onZero: false },
  axisTick: { customValues: [5, 10, 15, 20], length: 6, lineStyle: { color: '#000', width: 4 } },
  splitLine: { show: true, lineStyle: { color: '#000', width: 4, type: [22, 15] } },
  axisLabel: { customValues: [5, 10, 15, 20], fontSize: 32, color: '#111', fontFamily: FONT, margin: 20 }
});
yAxes.push({
  type: 'value', gridIndex: gG, min: -0.67, max: 39.56, inverse: true, splitLine: { show: false },
  axisLine: { show: false, onZero: false },
  axisTick: { customValues: gRows, length: 7, lineStyle: { color: '#000', width: 4 } },
  axisLabel: {
    // blank end values: the axis hides those two, so it never compares the real first/last rows with their neighbours
    customValues: [-0.6].concat(gRows, [39.5]), margin: 16, hideOverlap: false, showMinLabel: false, showMaxLabel: false, rich: labelRich,
    formatter: v => {
      const t = gLabels[v];
      if (!t) return '';
      if (t.indexOf('TGF') === 0) return '{r|TGF-}{rs|β}{r| signaling pathway}';
      if (gBoldRows.indexOf(v) < 0) return '{k|' + t + '}';
      return (v < gUpRows ? '{r|' : '{b|') + t + '}';
    }
  }
});
txt(2003, 2499, '-Log{s|10}q-value', 34, {
  align: 'center',
  rich: { s: { fontSize: 21, verticalAlign: 'bottom', fill: '#111', fontFamily: FONT, padding: [14, 0, 0, 0] } }
});
const dotSize = v => 19.6 * Math.pow(v[2], 0.2);
const gPoints = gQ.map((q, i) => [q, i, gCount[i]]);
series.push({
  type: 'scatter', name: 'Upregulated DEGs', xAxisIndex: gG, yAxisIndex: gG, clip: false, z: 6, silent: true,
  symbolSize: dotSize, color: RED, itemStyle: { color: RED, opacity: 1 }, data: gPoints.slice(0, gUpRows)
});
series.push({
  type: 'scatter', name: 'Downregulated DEGs', xAxisIndex: gG, yAxisIndex: gG, clip: false, z: 6, silent: true,
  symbolSize: dotSize, color: BLUE, itemStyle: { color: BLUE, opacity: 1 }, data: gPoints.slice(gUpRows)
});
series.push({
  type: 'scatter', name: 'Count', xAxisIndex: gG, yAxisIndex: gG, z: 6, silent: true,
  symbolSize: dotSize, itemStyle: { color: '#000', opacity: 1 },
  data: gSizeKey.map((c, i) => [gSizeKeyQ[i], gSizeKeyRow[i], c]),
  label: { show: true, position: 'right', distance: 11, formatter: p => p.value[2], fontSize: 31, color: '#111', fontFamily: FONT }
});
txt(2132, 1485, 'Count', 31, { align: 'center' });
[['Upregulated DEGs', 2464.5], ['Downregulated DEGs', 2498.5]].forEach(l => {
  legends.push({
    data: [l[0]], left: 1375, top: l[1], padding: 0, icon: 'rect', itemWidth: 27, itemHeight: 21, selectedMode: false,
    textStyle: { fontSize: 31.5, fontFamily: FONT, color: '#111', padding: [0, 0, 0, 1] }
  });
});

// category bars to the right of G, same row scale as the dots
const gSide = addGrid(2240, 1410, 10, 1019);
xAxes.push(hiddenAxis(gSide, 0, 1));
yAxes.push(hiddenAxis(gSide, -0.67, 39.56, { inverse: true }));
series.push({
  type: 'custom', xAxisIndex: gSide, yAxisIndex: gSide, silent: true,
  data: gGroups.map((g, i) => [g[1], g[2], i]),
  renderItem: (params, api) => {
    const i = api.value(2);
    const a = api.coord([0, api.value(0)]);
    const b = api.coord([1, api.value(1)]);
    return {
      type: 'group', children: [
        { type: 'rect', shape: { x: a[0], y: a[1], width: b[0] - a[0], height: b[1] - a[1] }, style: { fill: i < 4 ? RED : BLUE } },
        { type: 'text', x: a[0] + 22, y: (a[1] + b[1]) / 2 - 1, style: { text: gGroups[i][0], fontSize: 35.5, fontFamily: FONT, fill: '#111', align: 'left', verticalAlign: 'middle' } }
      ]
    };
  }
});

myChart.setOption({
  animation: false,
  backgroundColor: '#fff',
  textStyle: { fontFamily: FONT },
  legend: legends,
  grid: grids,
  xAxis: xAxes,
  yAxis: yAxes,
  series: series,
  graphic: graphics
});
</script>
</body>
</html>
